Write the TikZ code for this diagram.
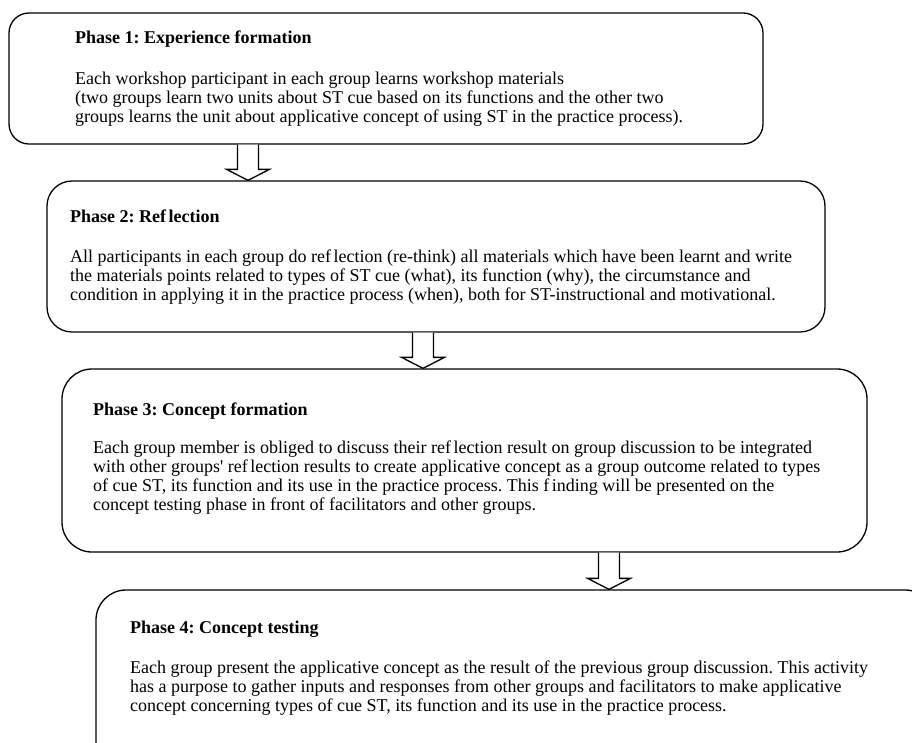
\documentclass[tikz,border=0pt]{standalone}
\usepackage{fontspec}
\setmainfont{Liberation Serif}
\usetikzlibrary{calc}
\newcommand\gapfl{\kern2.5pt}
\frenchspacing
\begin{document}
\begin{tikzpicture}[x=1pt,y=-1pt,
  phase/.style={draw, line width=1.3pt, rounded corners=#1, inner sep=0pt},
  ptitle/.style={anchor=base west, inner sep=0pt, font=\fontsize{18}{19}\selectfont\bfseries},
  pbody/.style={anchor=base west, inner sep=0pt, font=\fontsize{18}{19}\selectfont},
  harrow/.style={draw, line width=1.3pt, fill=white, line join=miter}]
\useasboundingbox (0,0) rectangle (912,742);
\clip (0,0) rectangle (912,742);

% boxes
\node[phase=20pt, minimum width=754pt, minimum height=131pt] (p1) at (386,78.5) {};
\node[phase=25pt, minimum width=778pt, minimum height=151pt] (p2) at (436,256.5) {};
\node[phase=30pt, minimum width=805pt, minimum height=183pt] (p3) at (464.5,460.5) {};
\node[phase=30pt, minimum width=839pt, minimum height=210pt] (p4) at (515.5,695) {};

% texts
\node[ptitle] (t1) at (75,43) {Phase 1: Experience formation};
\node[pbody] (b1) at (75,84) {\vtop{%
  \hbox{Each workshop participant in each group learns workshop materials}
  \hbox{(two groups learn two units about ST cue based on its functions and the other two}
  \hbox{groups learns the unit about applicative concept of using ST in the practice process).}}};

\node[ptitle] (t2) at (70,222) {Phase 2: Ref\gapfl lection};
\node[pbody] (b2) at (70,262) {\vtop{%
  \hbox{All participants in each group do ref\gapfl lection (re-think) all materials which have been learnt and write}
  \hbox{the materials points related to types of ST cue (what), its function (why), the circumstance and}
  \hbox{condition in applying it in the practice process (when), both for ST-instructional and motivational.}}};

\node[ptitle] (t3) at (93,415) {Phase 3: Concept formation};
\node[pbody] (b3) at (93,453) {\vtop{%
  \hbox{Each group member is obliged to discuss their ref\gapfl lection result on group discussion to be integrated}
  \hbox{with other groups\textquotesingle\ ref\gapfl lection results to create applicative concept as a group outcome related to types}
  \hbox{of cue ST, its function and its use in the practice process. This f\gapfl inding will be presented on the}
  \hbox{concept testing phase in front of facilitators and other groups.}}};

\node[ptitle] (t4) at (130,633) {Phase 4: Concept testing};
\node[pbody] (b4) at (130,673) {\vtop{%
  \hbox{Each group present the applicative concept as the result of the previous group discussion. This activity}
  \hbox{has a purpose to gather inputs and responses from other groups and facilitators to make applicative}
  \hbox{concept concerning types of cue ST, its function and its use in the practice process.}}};

% block arrows
\newcommand\blockdown[3]{%
  \coordinate (ax) at (#1,0);
  \coordinate (atop) at (ax |- #2.south);
  \coordinate (atip) at (ax |- #3.north);
  \draw[harrow] ($(atop)+(-10.5,0)$) -- ($(atip)+(-10.5,-11)$) -- ($(atip)+(-21.5,-11)$)
     -- (atip) -- ($(atip)+(21.5,-11)$) -- ($(atip)+(10.5,-11)$) -- ($(atop)+(10.5,0)$);
}
\blockdown{248}{p1}{p2}
\blockdown{423}{p2}{p3}
\blockdown{609}{p3}{p4}
\end{tikzpicture}
\end{document}
